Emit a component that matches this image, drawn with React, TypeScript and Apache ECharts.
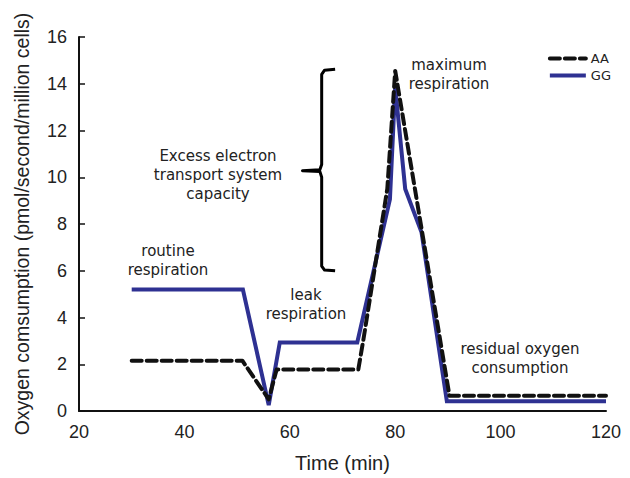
import React, { useEffect, useRef } from "react";
import * as echarts from "echarts";

// Time (min) and oxygen consumption values
const timeAA = [30, 51, 56, 57.5, 73, 74, 78.5, 80, 90.3, 120];
const valuesAA = [2.15, 2.15, 0.5, 1.78, 1.78, 3.1, 9.5, 14.55, 0.65, 0.65];
const timeGG = [30, 51.1, 56.0, 58.1, 72.8, 79.0, 80.0, 81.9, 85.0, 89.8, 120];
const valuesGG = [5.2, 5.2, 0.25, 2.93, 2.93, 9.06, 13.85, 9.5, 7.64, 0.42, 0.42];

// Bracket annotation (data units)
const braceX = [68.6, 66.6, 66.05, 66.05, 65.7, 62.4, 65.7, 66.05, 66.05, 66.6, 68.6];
const braceY = [14.62, 14.58, 14.4, 10.55, 10.32, 10.28, 10.25, 10.0, 6.2, 6.03, 6.0];

const xMin = 20, xMax = 120, xInterval = 20;
const yMin = 0, yMax = 16, yInterval = 2;

const seriesNames = ["AA", "GG"];

const annotations = [
  { text: "Excess electron\ntransport system\ncapacity", x: 218, y: 175 },
  { text: "routine\nrespiration", x: 168, y: 260 },
  { text: "leak\nrespiration", x: 306, y: 304 },
  { text: "maximum\nrespiration", x: 449, y: 74 },
  { text: "residual oxygen\nconsumption", x: 520, y: 358 },
];

const zip = (xs: number[], ys: number[]) => xs.map((x, i) => [x, ys[i]]);

export default function App() {
  const ref = useRef<HTMLDivElement>(null);
  useEffect(() => {
    if (!ref.current) return;
    const chart = echarts.init(ref.current, undefined, { renderer: "svg" });
    const axisFont = { fontFamily: "Liberation Sans, Arial, sans-serif", color: "#222" };
    chart.setOption({
      animation: false,
      backgroundColor: "#fff",
      grid: { left: 79, right: 24, top: 37, bottom: 66 },
      legend: {
        data: seriesNames,
        orient: "vertical",
        right: 14,
        top: 47,
        itemWidth: 36,
        itemHeight: 14,
        itemGap: 4,
        itemStyle: { opacity: 0 },
        lineStyle: { width: 4 },
        textStyle: { fontFamily: "DejaVu Sans, sans-serif", fontSize: 13, color: "#222" },
      },
      xAxis: {
        type: "value",
        min: xMin,
        max: xMax,
        interval: xInterval,
        name: "Time (min)",
        nameLocation: "middle",
        nameGap: 42,
        nameTextStyle: { ...axisFont, fontSize: 20 },
        axisLine: { lineStyle: { color: "#111", width: 2 } },
        axisTick: { show: false },
        axisLabel: { ...axisFont, fontSize: 18, margin: 12 },
        splitLine: { show: false },
      },
      yAxis: {
        type: "value",
        min: yMin,
        max: yMax,
        interval: yInterval,
        name: "Oxygen comsumption (pmol/second/million cells)",
        nameLocation: "middle",
        nameGap: 47,
        nameTextStyle: { ...axisFont, fontSize: 19.5 },
        axisLine: { show: true, lineStyle: { color: "#111", width: 2 } },
        axisTick: { show: true, inside: true, length: 6, lineStyle: { color: "#111", width: 1.5 } },
        axisLabel: { ...axisFont, fontSize: 18, margin: 12 },
        splitLine: { show: false },
      },
      series: [
        {
          name: "GG",
          type: "line",
          data: zip(timeGG, valuesGG),
          symbol: "none",
          lineStyle: { color: "#2E3192", width: 4, join: "miter" },
          itemStyle: { color: "#2E3192" },
          z: 2,
        },
        {
          name: "AA",
          type: "line",
          data: zip(timeAA, valuesAA),
          symbol: "none",
          lineStyle: { color: "#111", width: 4, type: [10, 5], cap: "round", join: "round" },
          itemStyle: { color: "#111" },
          z: 3,
        },
        {
          name: "brace",
          type: "line",
          data: zip(braceX, braceY),
          symbol: "none",
          silent: true,
          lineStyle: { color: "#000", width: 3, join: "round" },
          z: 4,
        },
      ],
      graphic: annotations.map((a) => ({
        type: "text",
        x: a.x,
        y: a.y,
        style: {
          text: a.text,
          fill: "#222",
          font: "15px 'DejaVu Sans', sans-serif",
          textAlign: "center",
          textVerticalAlign: "middle",
          lineHeight: 19,
        },
      })),
    });
    return () => chart.dispose();
  }, []);
  return <div ref={ref} style={{ position: "fixed", left: 0, top: 0, width: 630, height: 478 }} />;
}
